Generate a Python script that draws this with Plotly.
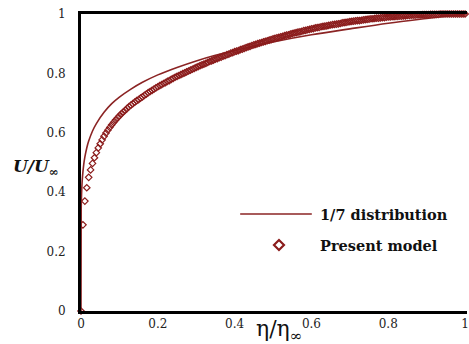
import plotly.graph_objects as go

# 1/7 distribution
ETA_LINE = [0, 0.0005, 0.001, 0.002, 0.004, 0.007, 0.01, 0.015, 0.02, 0.03, 0.04, 0.06,
            0.08, 0.1, 0.13, 0.16, 0.2, 0.25, 0.3, 0.35, 0.4, 0.45, 0.5, 0.6, 0.7, 0.8, 0.9, 1.0]
U_LINE = [0, 0.338, 0.373, 0.412, 0.454, 0.492, 0.518, 0.549, 0.572, 0.606, 0.631, 0.669,
          0.698, 0.720, 0.747, 0.770, 0.795, 0.820, 0.842, 0.861, 0.877, 0.892, 0.906, 0.930,
          0.950, 0.969, 0.985, 1.0]

# Present model
ETA_MODEL = [
    0.000, 0.005, 0.010, 0.015, 0.020, 0.025, 0.030, 0.035, 0.040, 0.045,
    0.050, 0.055, 0.060, 0.065, 0.070, 0.075, 0.080, 0.085, 0.090, 0.095,
    0.100, 0.105, 0.110, 0.115, 0.120, 0.125, 0.130, 0.135, 0.140, 0.145,
    0.150, 0.155, 0.160, 0.165, 0.170, 0.175, 0.180, 0.185, 0.190, 0.195,
    0.200, 0.205, 0.210, 0.215, 0.220, 0.225, 0.230, 0.235, 0.240, 0.245,
    0.250, 0.255, 0.260, 0.265, 0.270, 0.275, 0.280, 0.285, 0.290, 0.295,
    0.300, 0.305, 0.310, 0.315, 0.320, 0.325, 0.330, 0.335, 0.340, 0.345,
    0.350, 0.355, 0.360, 0.365, 0.370, 0.375, 0.380, 0.385, 0.390, 0.395,
    0.400, 0.405, 0.410, 0.415, 0.420, 0.425, 0.430, 0.435, 0.440, 0.445,
    0.450, 0.455, 0.460, 0.465, 0.470, 0.475, 0.480, 0.485, 0.490, 0.495,
    0.500, 0.505, 0.510, 0.515, 0.520, 0.525, 0.530, 0.535, 0.540, 0.545,
    0.550, 0.555, 0.560, 0.565, 0.570, 0.575, 0.580, 0.585, 0.590, 0.595,
    0.600, 0.605, 0.610, 0.615, 0.620, 0.625, 0.630, 0.635, 0.640, 0.645,
    0.650, 0.655, 0.660, 0.665, 0.670, 0.675, 0.680, 0.685, 0.690, 0.695,
    0.700, 0.705, 0.710, 0.715, 0.720, 0.725, 0.730, 0.735, 0.740, 0.745,
    0.750, 0.755, 0.760, 0.765, 0.770, 0.775, 0.780, 0.785, 0.790, 0.795,
    0.800, 0.805, 0.810, 0.815, 0.820, 0.825, 0.830, 0.835, 0.840, 0.845,
    0.850, 0.855, 0.860, 0.865, 0.870, 0.875, 0.880, 0.885, 0.890, 0.895,
    0.900, 0.905, 0.910, 0.915, 0.920, 0.925, 0.930, 0.935, 0.940, 0.945,
    0.950, 0.955, 0.960, 0.965, 0.970, 0.975, 0.980, 0.985, 0.990, 0.995,
    1.000]
U_MODEL = [
    0.000, 0.290, 0.370, 0.415, 0.450, 0.475, 0.497, 0.516, 0.533, 0.549,
    0.563, 0.576, 0.588, 0.599, 0.609, 0.618, 0.627, 0.635, 0.643, 0.650,
    0.657, 0.664, 0.670, 0.676, 0.682, 0.688, 0.693, 0.698, 0.703, 0.708,
    0.712, 0.717, 0.721, 0.726, 0.730, 0.735, 0.739, 0.743, 0.747, 0.751,
    0.755, 0.759, 0.762, 0.766, 0.769, 0.773, 0.776, 0.780, 0.783, 0.787,
    0.790, 0.793, 0.796, 0.799, 0.802, 0.805, 0.808, 0.811, 0.814, 0.817,
    0.820, 0.823, 0.826, 0.829, 0.831, 0.834, 0.837, 0.840, 0.842, 0.845,
    0.848, 0.850, 0.853, 0.855, 0.858, 0.860, 0.863, 0.865, 0.868, 0.870,
    0.873, 0.875, 0.877, 0.880, 0.882, 0.884, 0.887, 0.889, 0.891, 0.894,
    0.896, 0.898, 0.900, 0.902, 0.904, 0.906, 0.908, 0.910, 0.912, 0.914,
    0.916, 0.918, 0.920, 0.921, 0.923, 0.925, 0.927, 0.929, 0.930, 0.932,
    0.934, 0.936, 0.937, 0.939, 0.940, 0.942, 0.944, 0.945, 0.947, 0.948,
    0.950, 0.951, 0.953, 0.954, 0.955, 0.957, 0.958, 0.959, 0.960, 0.962,
    0.963, 0.964, 0.965, 0.966, 0.967, 0.968, 0.970, 0.971, 0.972, 0.973,
    0.974, 0.975, 0.976, 0.977, 0.978, 0.978, 0.979, 0.980, 0.981, 0.982,
    0.983, 0.984, 0.984, 0.985, 0.986, 0.986, 0.987, 0.988, 0.988, 0.989,
    0.990, 0.990, 0.991, 0.991, 0.992, 0.992, 0.993, 0.993, 0.994, 0.994,
    0.995, 0.995, 0.996, 0.996, 0.996, 0.997, 0.997, 0.997, 0.998, 0.998,
    0.998, 0.998, 0.999, 0.999, 0.999, 0.999, 0.999, 1.000, 1.000, 1.000,
    1.000, 1.000, 1.000, 1.000, 1.000, 1.000, 1.000, 1.000, 1.000, 1.000,
    1.000]

TICKS = [0, 0.2, 0.4, 0.6, 0.8, 1]
TICK_TEXT = ["0", "0.2", "0.4", "0.6", "0.8", "1"]

LINE_COLOR = "#8b2424"
MARK_COLOR = "#8b1c1c"
SERIF = "DejaVu Serif"

fig = go.Figure()
fig.add_trace(go.Scatter(x=ETA_LINE, y=U_LINE, mode="lines", line=dict(color=LINE_COLOR, width=1.6),
                         line_shape="spline", showlegend=False, cliponaxis=False))
fig.add_trace(go.Scatter(x=ETA_MODEL, y=U_MODEL, mode="markers",
                         marker=dict(symbol="diamond-open", size=5, color=MARK_COLOR,
                                     line=dict(width=1.2, color=MARK_COLOR)),
                         showlegend=False, cliponaxis=False))

L, R, T, B = 81, 0, 14, 33
W, H = 469, 344
pw, ph = W - L - R, H - T - B

def px(xp):
    return (xp - L) / pw

def py(yp):
    return (H - B - yp) / ph

fig.update_layout(
    width=W, height=H, margin=dict(l=L, r=R, t=T, b=B),
    paper_bgcolor="white", plot_bgcolor="white",
    font=dict(family=SERIF),
    xaxis=dict(range=[0, 1.005], tickvals=TICKS, ticktext=TICK_TEXT, showgrid=False, zeroline=False,
               showline=True, linecolor="black", linewidth=2.5, mirror=True, ticks="",
               ticklabeloverflow="allow",
               tickfont=dict(family=SERIF, size=12, color="#222")),
    yaxis=dict(range=[0, 1], tickvals=TICKS, ticktext=TICK_TEXT, showgrid=False, zeroline=False,
               showline=True, linecolor="black", linewidth=2.8, mirror=False, ticks="",
               ticklabelstandoff=10, tickfont=dict(family=SERIF, size=12, color="#222")),
    shapes=[
        dict(type="line", xref="paper", yref="paper", x0=px(241), x1=px(313), y0=py(214), y1=py(214),
             line=dict(color=LINE_COLOR, width=1.6)),
        dict(type="path", xref="paper", yref="paper", xsizemode="pixel", ysizemode="pixel",
             xanchor=px(280), yanchor=py(245), path="M -5 0 L 0 5 L 5 0 L 0 -5 Z",
             line=dict(color=MARK_COLOR, width=2.2)),
    ],
    annotations=[
        dict(text="<b>1/7 distribution</b>", xref="paper", yref="paper", x=px(319), y=py(214),
             xanchor="left", yanchor="middle", showarrow=False, font=dict(family=SERIF, size=14.5, color="#111")),
        dict(text="<b>Present model</b>", xref="paper", yref="paper", x=px(319), y=py(245),
             xanchor="left", yanchor="middle", showarrow=False, font=dict(family=SERIF, size=14.5, color="#111")),
        dict(text="<b><i>U/U</i><sub>∞</sub></b>", xref="paper", yref="paper", x=px(36), y=py(167),
             xanchor="center", yanchor="middle", showarrow=False, font=dict(family=SERIF, size=17, color="#111")),
        dict(text="η/η<sub>∞</sub>", xref="paper", yref="paper", x=px(281), y=py(330),
             xanchor="center", yanchor="middle", showarrow=False, font=dict(family=SERIF, size=22, color="#111")),
    ],
)

fig.write_html("out.html")
